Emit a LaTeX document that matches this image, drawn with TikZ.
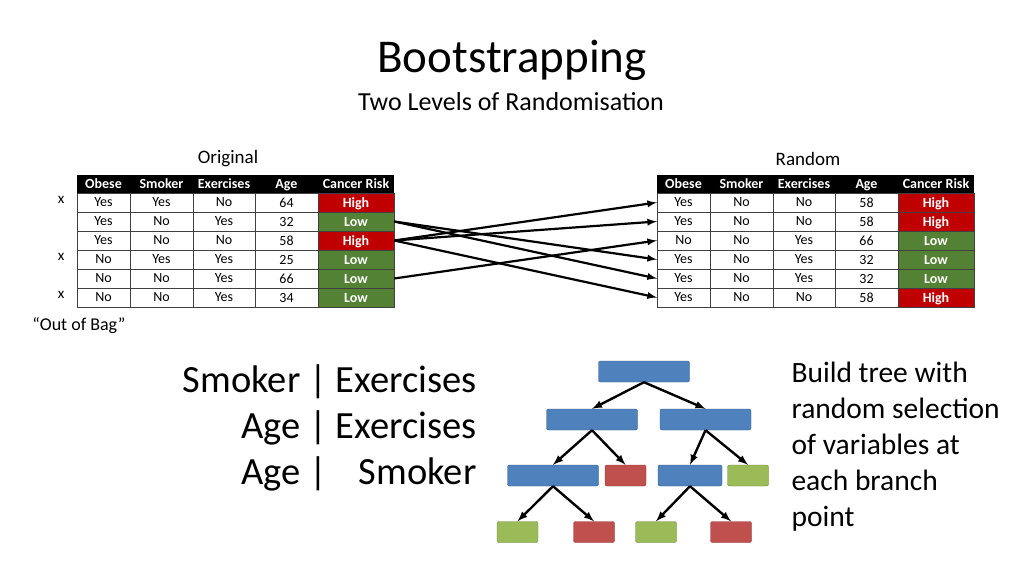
\documentclass[tikz,border=0pt]{standalone}
\usepackage{fontspec}
\setmainfont{Carlito}
\usetikzlibrary{positioning}
\definecolor{boxblue}{HTML}{4F81BD}
\definecolor{boxred}{HTML}{C0504D}
\definecolor{boxgreen}{HTML}{9BBB59}
\definecolor{riskred}{HTML}{C00000}
\definecolor{riskgreen}{HTML}{548235}
\tikzset{
    cell/.style = {draw=black!75, thin, rectangle, inner sep=0pt, minimum height=19pt, text depth=0pt, font=\fontsize{14}{16}\selectfont},
    head-cell/.style = {fill=black, text=white, inner sep=0pt, minimum height=18pt, text height=10pt, text depth=2pt, font=\fontsize{14}{16}\selectfont\bfseries},
    risk High/.style = {fill=riskred, text=white, font=\fontsize{14}{16}\selectfont\bfseries},
    risk Low/.style = {fill=riskgreen, text=white, font=\fontsize{14}{16}\selectfont\bfseries},
    tree-box/.style = {rectangle, rounded corners=2pt, thin, minimum height=21pt, inner sep=0pt},
    blue-box/.style = {tree-box, fill=boxblue, draw=boxblue!70!black, minimum width=91pt},
    red-box/.style = {tree-box, fill=boxred, draw=boxred!70!black, minimum width=41pt},
    green-box/.style = {tree-box, fill=boxgreen, draw=boxgreen!70!black, minimum width=41pt},
    branch/.style = {draw, line width=2.4pt, -latex},
    swap/.style = {draw, line width=2.2pt, -latex},
}

\begin{document}
\begin{tikzpicture}[x=1pt, y=-1pt]
\useasboundingbox (0,0) rectangle (1024,575);

% titles
\node (title) at (512,60) {\fontsize{47}{54}\selectfont Bootstrapping};
\node (subtitle) at (511,102) {\fontsize{26}{30}\selectfont Two Levels of Randomisation};
\node (orig) at (228,159) {\fontsize{19}{22}\selectfont Original};
\node (rand) at (808,159) {\fontsize{19}{22}\selectfont Random};

% table headers
\foreach \t/\dx in {L/0, R/580} {
    \foreach \c/\x/\w/\h in {1/103.5/53/Obese, 2/161.5/63/Smoker, 3/224/62/Exercises, 4/286.5/63/Age, 5/356/76/Cancer Risk}
        \node[head-cell, minimum width=\w pt] (\t-0-\c) at (\x+\dx,184) {\h};
}

% original rows
\foreach \r/\a/\b/\c/\d/\e in {1/Yes/Yes/No/64/High, 2/Yes/No/Yes/32/Low, 3/Yes/No/No/58/High,
    4/No/Yes/Yes/25/Low, 5/No/No/Yes/66/Low, 6/No/No/Yes/34/Low} {
    \pgfmathsetmacro\y{193+19*\r-9.5}
    \node[cell, minimum width=53pt] (L-\r-1) at (103.5,\y) {\a};
    \node[cell, minimum width=63pt] (L-\r-2) at (161.5,\y) {\b};
    \node[cell, minimum width=62pt] (L-\r-3) at (224,\y) {\c};
    \node[cell, minimum width=63pt] (L-\r-4) at (286.5,\y) {\d};
    \node[cell, risk \e, minimum width=76pt] (L-\r-5) at (356,\y) {\e};
}

% random rows
\foreach \r/\a/\b/\c/\d/\e in {1/Yes/No/No/58/High, 2/Yes/No/No/58/High, 3/No/No/Yes/66/Low,
    4/Yes/No/Yes/32/Low, 5/Yes/No/Yes/32/Low, 6/Yes/No/No/58/High} {
    \pgfmathsetmacro\y{193+19*\r-9.5}
    \node[cell, minimum width=53pt] (R-\r-1) at (683.5,\y) {\a};
    \node[cell, minimum width=63pt] (R-\r-2) at (741.5,\y) {\b};
    \node[cell, minimum width=62pt] (R-\r-3) at (804,\y) {\c};
    \node[cell, minimum width=63pt] (R-\r-4) at (866.5,\y) {\d};
    \node[cell, risk \e, minimum width=76pt] (R-\r-5) at (936,\y) {\e};
}

% out of bag marks
\foreach \r in {1,4,6}
    \node[font=\fontsize{15}{17}\selectfont] (oob-\r) at (61,{193+19*\r-12}) {x};
\node[font=\fontsize{18}{21}\selectfont] (oob) at (79,326) {``Out of Bag''};

% resampling arrows
\draw[swap] (L-2-5.east) -- (R-4-1.west);
\draw[swap] (L-2-5.east) -- (R-5-1.west);
\draw[swap] (L-3-5.east) -- (R-1-1.west);
\draw[swap] (L-3-5.east) -- (R-2-1.west);
\draw[swap] (L-3-5.east) -- (R-6-1.west);
\draw[swap] (L-5-5.east) -- (R-3-1.west);

% variable selections
\node[anchor=east, align=right, font=\fontsize{38.5}{46}\selectfont] (vars) at (480,428)
    {Smoker | Exercises\\Age | Exercises\\Age |\hspace{0.6em} Smoker};

% tree
\node[blue-box] (root) at (644,371.5) {};
\node[blue-box] (a) at (592,419.5) {};
\node[blue-box] (b) at (705.5,419.5) {};
\node[blue-box] (aa) at (553,475.5) {};
\node[red-box] (ab) at (625.5,475.5) {};
\node[blue-box, minimum width=64pt] (ba) at (690,475.5) {};
\node[green-box] (bb) at (748,475.5) {};
\node[green-box] (aaa) at (517.5,532) {};
\node[red-box] (aab) at (594,532) {};
\node[green-box] (baa) at (656,532) {};
\node[red-box] (bab) at (731,532) {};
\draw[branch] (root.south) -- (a.north);
\draw[branch] (root.south) -- (b.north);
\draw[branch] (a.south) -- (aa.north);
\draw[branch] (a.south) -- (ab.north);
\draw[branch] (b.south) -- (ba.north);
\draw[branch] (b.south) -- (bb.north);
\draw[branch] (aa.south) -- (aaa.north);
\draw[branch] (aa.south) -- (aab.north);
\draw[branch] (ba.south) -- (baa.north);
\draw[branch] (ba.south) -- (bab.north);

\node[anchor=north west, align=left, font=\fontsize{29.5}{36}\selectfont] (note) at (788,358)
    {Build tree with\\random selection\\of variables at\\each branch\\point};
\end{tikzpicture}
\end{document}
